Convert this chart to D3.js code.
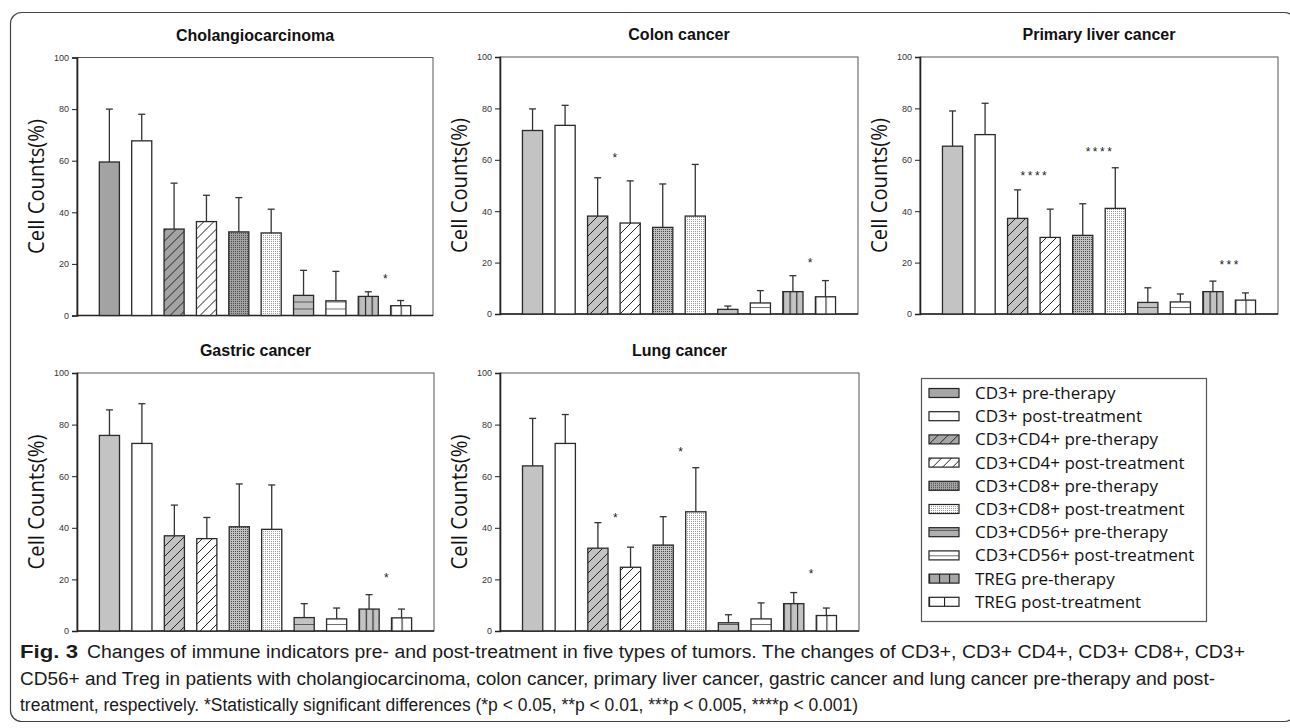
<!DOCTYPE html>
<html>
<head>
<meta charset="utf-8">
<script src="https://cdn.jsdelivr.net/npm/d3@7"></script>
<style>
body { margin: 0; background: #fff; }
svg { display: block; }
</style>
</head>
<body>
<div id="chart"></div>
<script>
// series shown in every panel, in bar order
var seriesNames = ["CD3+ pre-therapy", "CD3+ post-treatment", "CD3+CD4+ pre-therapy", "CD3+CD4+ post-treatment",
  "CD3+CD8+ pre-therapy", "CD3+CD8+ post-treatment", "CD3+CD56+ pre-therapy", "CD3+CD56+ post-treatment",
  "TREG pre-therapy", "TREG post-treatment"];
var panelTitles = ["Cholangiocarcinoma", "Colon cancer", "Primary liver cancer", "Gastric cancer", "Lung cancer"];
var yTicks = [0, 20, 40, 60, 80, 100];

// mean and mean+SD (top of error bar)
var cholangioMean = [59.5, 67.7, 33.5, 36.4, 32.4, 32.0, 7.8, 5.7, 7.4, 3.8];
var cholangioUpper = [80.0, 78.0, 51.3, 46.6, 45.7, 41.2, 17.5, 17.1, 9.2, 5.8];
var colonMean = [71.4, 73.4, 38.1, 35.4, 33.7, 38.1, 1.8, 4.3, 8.7, 6.7];
var colonUpper = [79.8, 81.2, 53.0, 51.8, 50.6, 58.2, 3.1, 9.1, 14.9, 13.0];
var liverMean = [65.3, 69.8, 37.2, 29.8, 30.6, 41.1, 4.5, 4.7, 8.7, 5.4];
var liverUpper = [79.0, 82.0, 48.3, 40.8, 42.9, 56.9, 10.2, 7.8, 12.8, 8.2];
var gastricMean = [75.8, 72.7, 36.9, 35.8, 40.4, 39.4, 5.2, 4.7, 8.5, 5.1];
var gastricUpper = [85.7, 88.1, 48.8, 44.0, 57.0, 56.6, 10.6, 8.9, 14.1, 8.5];
var lungMean = [64.0, 72.7, 32.1, 24.7, 33.3, 46.2, 3.2, 4.7, 10.6, 6.0];
var lungUpper = [82.4, 83.9, 42.0, 32.5, 44.3, 63.3, 6.3, 10.9, 14.9, 8.9];

// significance marks: [left bar of the pair, label, height in %]
var cholangioStars = [[8, "*", 15.2]];
var colonStars = [[2, "*", 61.8], [8, "*", 21.2]];
var liverStars = [[2, "****", 54.7], [4, "****", 64.1], [8, "***", 20.3]];
var gastricStars = [[8, "*", 21.8]];
var lungStars = [[2, "*", 45.0], [4, "*", 70.5], [8, "*", 23.3]];

var captionLines = [
  "Changes of immune indicators pre- and post-treatment in five types of tumors. The changes of CD3+, CD3+ CD4+, CD3+ CD8+, CD3+",
  "CD56+ and Treg in patients with cholangiocarcinoma, colon cancer, primary liver cancer, gastric cancer and lung cancer pre-therapy and post-",
  "treatment, respectively. *Statistically significant differences (*p < 0.05, **p < 0.01, ***p < 0.005, ****p < 0.001)"
];

var panels = [
  {title: panelTitles[0], mean: cholangioMean, upper: cholangioUpper, stars: cholangioStars,
   box: [77, 433, 57.5, 315.5], pre: ["#a3a3a3", "#a3a3a3", "#a3a3a3", "#bebebe", "#bebebe"]},
  {title: panelTitles[1], mean: colonMean, upper: colonUpper, stars: colonStars,
   box: [500, 858, 57, 314], pre: ["#c3c3c3", "#c3c3c3", "#c3c3c3", "#c3c3c3", "#c3c3c3"]},
  {title: panelTitles[2], mean: liverMean, upper: liverUpper, stars: liverStars,
   box: [920, 1278, 57, 314], pre: ["#c3c3c3", "#c3c3c3", "#c3c3c3", "#c3c3c3", "#c3c3c3"]},
  {title: panelTitles[3], mean: gastricMean, upper: gastricUpper, stars: gastricStars,
   box: [77, 434, 373, 631], pre: ["#c3c3c3", "#c3c3c3", "#c3c3c3", "#c3c3c3", "#c3c3c3"]},
  {title: panelTitles[4], mean: lungMean, upper: lungUpper, stars: lungStars,
   box: [500, 859, 373, 631], pre: ["#c3c3c3", "#c3c3c3", "#c3c3c3", "#c3c3c3", "#c3c3c3"]}
];

var W = 1290, H = 728;
var svg = d3.select("#chart").append("svg")
  .attr("width", W)
  .attr("height", H);
var defs = svg.append("defs");

svg.append("rect")
  .attr("width", W).attr("height", H)
  .attr("fill", "#fff");

// outer rounded frame of the figure
svg.append("rect")
  .attr("x", 10.5).attr("y", 12.5)
  .attr("width", 1285).attr("height", 709)
  .attr("rx", 11)
  .attr("fill", "none")
  .attr("stroke", "#444")
  .attr("stroke-width", 1.2);

// build the fill patterns for one panel (or the legend)
function makeFills(key, anchorY, pre) {
  var ink = "#222";
  function pat(id, w, h, bg, yOff) {
    var p = defs.append("pattern").attr("id", id + key)
      .attr("patternUnits", "userSpaceOnUse")
      .attr("width", w).attr("height", h)
      .attr("y", yOff);
    p.append("rect").attr("width", w).attr("height", h).attr("fill", bg);
    return p;
  }
  // diagonal lines
  [["diagPre", pre[1]], ["diagPost", "#fff"]].forEach(function(d) {
    var p = pat(d[0], 10, 10, d[1], anchorY);
    p.append("path").attr("d", "M0,10L10,0M-2,2L2,-2M8,12L12,8")
      .attr("stroke", ink).attr("stroke-width", 1);
  });
  // fine stipple, kept on whole pixels
  [["dotPre", pre[2], "#4a4a4a"], ["dotPost", "#fff", "#9a9a9a"]].forEach(function(d) {
    var p = pat(d[0], 2, 2, d[1], 0);
    p.append("rect").attr("x", 1).attr("y", 1).attr("width", 1).attr("height", 1).attr("fill", d[2]);
  });
  // horizontal stripes, anchored on the baseline
  [["hPre", pre[3]], ["hPost", "#fff"]].forEach(function(d) {
    var p = pat(d[0], 10, 7, d[1], anchorY);
    p.append("line").attr("x1", 0).attr("x2", 10).attr("y1", 0).attr("y2", 0)
      .attr("stroke", ink).attr("stroke-width", 1.3);
  });
  // vertical stripes, split bar into thirds / halves
  [["vPre", pre[4], 1 / 3], ["vPost", "#fff", 1 / 2]].forEach(function(d) {
    var p = defs.append("pattern").attr("id", d[0] + key)
      .attr("patternUnits", "objectBoundingBox")
      .attr("width", d[2]).attr("height", 1);
    p.append("rect").attr("width", 200).attr("height", 1000).attr("fill", d[1]);
    p.append("line").attr("x1", 0.5).attr("x2", 0.5).attr("y1", 0).attr("y2", 1000)
      .attr("stroke", ink).attr("stroke-width", 1.2);
  });
  return [pre[0], "#fff",
    "url(#diagPre" + key + ")", "url(#diagPost" + key + ")",
    "url(#dotPre" + key + ")", "url(#dotPost" + key + ")",
    "url(#hPre" + key + ")", "url(#hPost" + key + ")",
    "url(#vPre" + key + ")", "url(#vPost" + key + ")"];
}

panels.forEach(function(p, pi) {
  var left = p.box[0], right = p.box[1], top = p.box[2], bottom = p.box[3];
  var fills = makeFills("p" + pi, bottom, p.pre);

  var x = d3.scaleBand()
    .domain(d3.range(seriesNames.length))
    .range([left, right])
    .paddingInner(0.38)
    .paddingOuter(0.69);
  var y = d3.scaleLinear().domain([0, 100]).range([bottom, top]);

  var g = svg.append("g");

  // plot frame
  g.append("rect")
    .attr("x", left).attr("y", top)
    .attr("width", right - left).attr("height", bottom - top)
    .attr("fill", "none")
    .attr("stroke", "#555")
    .attr("stroke-width", 1);

  var yAxis = g.append("g")
    .attr("transform", "translate(" + left + ",0)")
    .call(d3.axisLeft(y).tickValues(yTicks).tickSize(5).tickPadding(3));
  yAxis.select(".domain").attr("stroke", "#222").attr("stroke-width", 1.6);
  yAxis.selectAll(".tick line").attr("stroke", "#222");
  yAxis.selectAll(".tick text")
    .attr("font-family", "Liberation Sans, Arial, sans-serif")
    .attr("font-size", 9)
    .attr("fill", "#333");

  g.append("line")
    .attr("x1", left).attr("x2", right)
    .attr("y1", bottom).attr("y2", bottom)
    .attr("stroke", "#222").attr("stroke-width", 1.6);

  // error bars (upper only)
  var err = g.append("g").attr("stroke", "#333").attr("stroke-width", 1.3);
  err.selectAll("line.v").data(p.mean).enter().append("line")
    .attr("class", "v")
    .attr("x1", function(d, i) { return x(i) + x.bandwidth() / 2; })
    .attr("x2", function(d, i) { return x(i) + x.bandwidth() / 2; })
    .attr("y1", function(d) { return y(d); })
    .attr("y2", function(d, i) { return y(p.upper[i]); });
  err.selectAll("line.c").data(p.upper).enter().append("line")
    .attr("class", "c")
    .attr("x1", function(d, i) { return x(i) + x.bandwidth() / 2 - 3.5; })
    .attr("x2", function(d, i) { return x(i) + x.bandwidth() / 2 + 3.5; })
    .attr("y1", function(d) { return y(d); })
    .attr("y2", function(d) { return y(d); });

  g.selectAll("rect.bar").data(p.mean).enter().append("rect")
    .attr("class", "bar")
    .attr("x", function(d, i) { return x(i); })
    .attr("y", function(d) { return y(d); })
    .attr("width", x.bandwidth())
    .attr("height", function(d) { return bottom - y(d); })
    .attr("fill", function(d, i) { return fills[i]; })
    .attr("stroke", "#2a2a2a")
    .attr("stroke-width", 1.3);

  g.selectAll("text.star").data(p.stars).enter().append("text")
    .attr("class", "star")
    .attr("x", function(d) { return (x(d[0]) + x(d[0] + 1) + x.bandwidth()) / 2 + 1; })
    .attr("y", function(d) { return y(d[2]) + 7; })
    .attr("text-anchor", "middle")
    .attr("letter-spacing", function(d) { return d[1].length > 1 ? 2.5 : 0; })
    .attr("font-family", "Liberation Sans, Arial, sans-serif")
    .attr("font-size", 12)
    .attr("fill", "#222")
    .text(function(d) { return d[1]; });

  g.append("text")
    .attr("x", (left + right) / 2)
    .attr("y", top - 17)
    .attr("text-anchor", "middle")
    .attr("font-family", "Liberation Sans, Arial, sans-serif")
    .attr("font-weight", "bold")
    .attr("font-size", 16)
    .attr("fill", "#111")
    .text(p.title);

  g.append("text")
    .attr("transform", "translate(" + (left - 33) + "," + ((top + bottom) / 2) + ") rotate(-90)")
    .attr("text-anchor", "middle")
    .attr("font-family", "Open Sans, Noto Sans, sans-serif")
    .attr("font-size", 21)
    .attr("textLength", 135)
    .attr("lengthAdjust", "spacingAndGlyphs")
    .attr("fill", "#111")
    .text("Cell Counts(%)");
});

// legend
var legX = 921, legY = 378, rowH = 23.2;
svg.append("rect")
  .attr("x", legX + 0.5).attr("y", legY + 0.5)
  .attr("width", 285).attr("height", 243)
  .attr("fill", "#fff")
  .attr("stroke", "#555").attr("stroke-width", 1.2);

var legRows = svg.append("g").selectAll("g").data(seriesNames).enter().append("g")
  .attr("transform", function(d, i) { return "translate(0," + (legY + 15 + i * rowH) + ")"; });
legRows.each(function(d, i) {
  var row = d3.select(this);
  var fills = makeFills("l" + i, legY + 15 + i * rowH + 4.5,
    ["#a6a6a6", "#a6a6a6", "#a6a6a6", "#b0b0b0", "#a6a6a6"]);
  row.append("rect")
    .attr("x", 929).attr("y", -4.5)
    .attr("width", 30).attr("height", 9)
    .attr("fill", fills[i])
    .attr("stroke", "#222").attr("stroke-width", 1.2);
  row.append("text")
    .attr("x", 975).attr("y", 6)
    .attr("font-family", "Open Sans, Noto Sans, sans-serif")
    .attr("font-size", 17)
    .attr("fill", "#111")
    .text(d);
});

// caption
var cap = svg.append("g")
  .attr("font-family", "Liberation Sans Narrow, Liberation Sans, Arial, sans-serif")
  .attr("font-size", 18)
  .attr("fill", "#1a1a1a");
cap.append("text")
  .attr("x", 20).attr("y", 658)
  .attr("font-weight", "bold")
  .attr("textLength", 58).attr("lengthAdjust", "spacingAndGlyphs")
  .text("Fig. 3");
var capStarts = [87, 20, 20], capEnds = [1245, 1215, 858], capBase = [658, 685, 711];
cap.selectAll("text.line").data(captionLines).enter().append("text")
  .attr("class", "line")
  .attr("x", function(d, i) { return capStarts[i]; })
  .attr("y", function(d, i) { return capBase[i]; })
  .attr("textLength", function(d, i) { return capEnds[i] - capStarts[i]; })
  .attr("lengthAdjust", "spacingAndGlyphs")
  .text(function(d) { return d; });
</script>
</body>
</html>
